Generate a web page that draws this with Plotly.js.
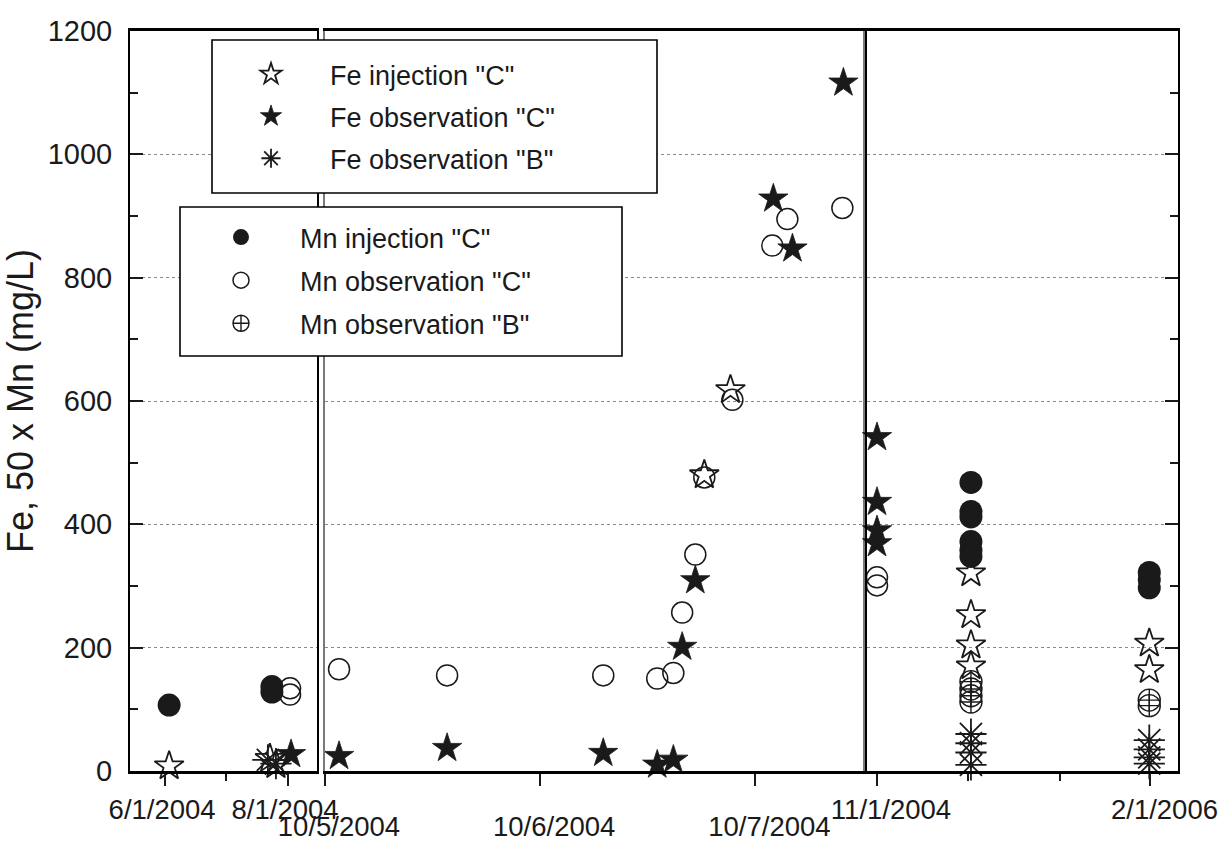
<!DOCTYPE html>
<html><head><meta charset="utf-8">
<script src="https://cdn.plot.ly/plotly-3.0.1.min.js"></script>
<style>html,body{margin:0;padding:0;background:#fff;}</style>
</head><body>
<div id="chart" style="width:1225px;height:843px;"></div>
<script>
// ---- data ----
const feInjC_dates = ['2004-06-03','2004-07-23','2004-07-26','2004-10-06 18:18','2004-10-06 21:13',
  '2005-04-07','2005-04-07','2005-04-07','2005-04-07','2006-01-30','2006-01-30'];
const feInjC_vals  = [8, 20, 10, 480, 618, 321, 253, 204, 170, 207, 164];

const feObsC_dates = ['2004-08-02 12:00','2004-10-05 01:34','2004-10-05 13:37','2004-10-06 07:02',
  '2004-10-06 13:03','2004-10-06 14:51','2004-10-06 15:50','2004-10-06 17:18','2004-10-07 02:00',
  '2004-10-07 04:08','2004-10-07 09:49','2004-11-01','2004-11-01','2004-11-01','2004-11-01'];
const feObsC_vals  = [27, 24, 37, 29, 10, 18, 201, 309, 928, 847, 1116, 541, 436, 390, 369];

const feObsB_dates = ['2004-07-22','2004-07-26','2005-04-07','2005-04-07','2005-04-07','2005-04-07',
  '2006-01-30','2006-01-30','2006-01-30','2006-01-30'];
const feObsB_vals  = [18, 12, 60, 45, 30, 10, 50, 35, 22, 12];

const mnInjC_dates = ['2004-06-03','2004-07-24','2004-07-24','2005-04-07','2005-04-07','2005-04-07',
  '2005-04-07','2005-04-07','2005-04-07','2006-01-30','2006-01-30','2006-01-30'];
const mnInjC_vals  = [107, 137, 128, 468, 421, 412, 372, 358, 348, 322, 310, 297];

const mnObsC_dates = ['2004-08-02','2004-08-02','2004-10-05 01:34','2004-10-05 13:37','2004-10-06 07:02',
  '2004-10-06 13:03','2004-10-06 14:51','2004-10-06 15:50','2004-10-06 17:18','2004-10-06 18:18',
  '2004-10-06 21:26','2004-10-07 01:53','2004-10-07 03:34','2004-10-07 09:42','2004-11-01','2004-11-01'];
const mnObsC_vals  = [134, 124, 165, 155, 155, 150, 159, 257, 351, 476, 602, 852, 895, 913, 314, 301];

const mnObsB_dates = ['2005-04-07','2005-04-07','2005-04-07','2005-04-07','2006-01-30','2006-01-30'];
const mnObsB_vals  = [145, 133, 122, 112, 115, 106];

// ---- axis breaks and ticks ----
const panelRanges = [['2004-05-14 14:00','2004-08-15 09:00'],
                     ['2004-10-05 00:00','2004-10-07 12:00'],
                     ['2004-10-15 07:00','2006-03-19 00:00']];
const panelTicks  = [['2004-06-01','2004-08-01'], ['2004-10-05','2004-10-06','2004-10-07'], ['2004-11-01','2006-02-01']];
const panelLabels = [['6/1/2004','8/1/2004'], ['10/5/2004','10/6/2004','10/7/2004'], ['11/1/2004','2/1/2006']];
const panelMinor  = [['2004-07-01'], [], ['2005-04-02','2005-09-03']];
const yTicks = [0,200,400,600,800,1000,1200];
const yMinor = [100,300,500,700,900,1100];
const yTitle = 'Fe, 50 x Mn (mg/L)';

const FONT = 'Liberation Sans, Arial, sans-serif';
const INK = '#1a1a1a';

const series = [
  {name:'Fe injection "C"',   d:feInjC_dates, v:feInjC_vals, legend:'legend',  m:{symbol:'star-open', size:22, color:INK, line:{width:1.8, color:INK}}},
  {name:'Fe observation "C"', d:feObsC_dates, v:feObsC_vals, legend:'legend',  m:{symbol:'star', size:22, color:INK, line:{width:0.8, color:INK}}},
  {name:'Fe observation "B"', d:feObsB_dates, v:feObsB_vals, legend:'legend',  m:{symbol:'asterisk-open', size:26, color:INK, line:{width:1.8, color:INK}}},
  {name:'Mn injection "C"',   d:mnInjC_dates, v:mnInjC_vals, legend:'legend2', m:{symbol:'circle', size:23, color:INK, line:{width:0}}},
  {name:'Mn observation "C"', d:mnObsC_dates, v:mnObsC_vals, legend:'legend2', m:{symbol:'circle-open', size:21, color:INK, line:{width:1.5, color:INK}}},
  {name:'Mn observation "B"', d:mnObsB_dates, v:mnObsB_vals, legend:'legend2', m:{symbol:'circle-cross-open', size:22, color:INK, line:{width:1.4, color:INK}}}
];

const toT = s => new Date(s.replace(' ','T')).getTime();
const axIds = [['x','y'],['x2','y2'],['x3','y3']];
const traces = [];
series.forEach((s, si) => {
  let shown = false;
  panelRanges.forEach((r, pi) => {
    const lo = toT(r[0]), hi = toT(r[1]);
    const xs = [], ys = [];
    s.d.forEach((d, i) => { const t = toT(d); if (t >= lo && t <= hi) { xs.push(d); ys.push(s.v[i]); } });
    if (!xs.length) return;
    traces.push({
      type:'scatter', mode:'markers', x:xs, y:ys, name:s.name,
      xaxis:axIds[pi][0], yaxis:axIds[pi][1],
      legend:s.legend, legendgroup:'g'+si, showlegend:!shown,
      marker:s.m, cliponaxis:false, hoverinfo:'x+y'
    });
    shown = true;
  });
});

// ---- geometry (pixels in a 1225x843 page) ----
const L = 130, R = 1178, T = 31, B = 771;
const W = R - L, H = B - T;
const fx = px => (px - L) / W;
const fy = py => (B - py) / H;

function xAxis(pi, dom, extra) {
  return Object.assign({
    type:'date', domain:dom, range:panelRanges[pi], anchor:axIds[pi][1],
    tickmode:'array', tickvals:panelTicks[pi], ticktext:panelLabels[pi],
    ticks:'outside', ticklen:12, tickwidth:2, tickcolor:INK,
    minor:{tickmode:'array', tickvals:panelMinor[pi], ticks:'outside', ticklen:7, tickwidth:2, tickcolor:INK, showgrid:false},
    showline:true, linewidth:3, linecolor:'#000', mirror:true,
    showgrid:false, zeroline:false, fixedrange:true,
    tickfont:{family:FONT, size:27.5, color:INK}
  }, extra || {});
}
function yAxis(extra) {
  return Object.assign({
    range:[0,1200], tickmode:'array', tickvals:yTicks,
    showgrid:true, gridcolor:'#8a8a8a', griddash:'dot', gridwidth:1,
    zeroline:false, showline:true, linewidth:2, linecolor:'#000', mirror:true,
    fixedrange:true, tickfont:{family:FONT, size:29, color:INK}
  }, extra || {});
}

const layout = {
  width:1225, height:843,
  margin:{l:L, r:1225-R, t:T, b:843-B, pad:0},
  paper_bgcolor:'#fff', plot_bgcolor:'rgba(0,0,0,0)',
  font:{family:FONT, color:INK},
  xaxis:  xAxis(0, [0, fx(317)], {ticklabelshift:-3}),
  xaxis2: xAxis(1, [fx(325), fx(863)], {ticklabelstandoff:17, ticklabelshift:14}),
  xaxis3: xAxis(2, [fx(867), 1], {ticklabelshift:14}),
  yaxis: yAxis({anchor:'x', ticks:'inside', ticklen:13, tickwidth:2, tickcolor:INK,
    minor:{tickmode:'array', tickvals:yMinor, ticks:'inside', ticklen:8, tickwidth:2, tickcolor:INK, showgrid:false},
    ticklabelstandoff:10,
    title:{text:yTitle, font:{family:FONT, size:36, color:INK}, standoff:16}}),
  yaxis2: yAxis({anchor:'x2', matches:'y', ticks:'', showticklabels:false, linecolor:'#7a7a7a'}),
  yaxis3: yAxis({anchor:'x3', matches:'y', side:'right', ticks:'inside', ticklen:13, tickwidth:2, tickcolor:INK,
    minor:{tickmode:'array', tickvals:yMinor, ticks:'inside', ticklen:8, tickwidth:2, tickcolor:INK, showgrid:false},
    showticklabels:false}),
  legend:  {x:fx(212), y:fy(50), xanchor:'left', yanchor:'top', bgcolor:'rgba(0,0,0,0)', borderwidth:0,
            itemwidth:108, tracegroupgap:4, font:{family:FONT, size:27, color:INK}},
  legend2: {x:fx(182), y:fy(213), xanchor:'left', yanchor:'top', bgcolor:'rgba(0,0,0,0)', borderwidth:0,
            itemwidth:108, tracegroupgap:5, font:{family:FONT, size:27, color:INK}},
  shapes: [
    {type:'rect', xref:'paper', yref:'paper', x0:fx(212), x1:fx(657), y0:fy(193), y1:fy(40),
     fillcolor:'#fff', line:{color:'#000', width:1.6}, layer:'above'},
    {type:'rect', xref:'paper', yref:'paper', x0:fx(180), x1:fx(622), y0:fy(356), y1:fy(207),
     fillcolor:'#fff', line:{color:'#000', width:1.6}, layer:'above'}
  ],
  showlegend:true
};

Plotly.newPlot('chart', traces, layout, {displayModeBar:false, staticPlot:true});
</script>
</body></html>
